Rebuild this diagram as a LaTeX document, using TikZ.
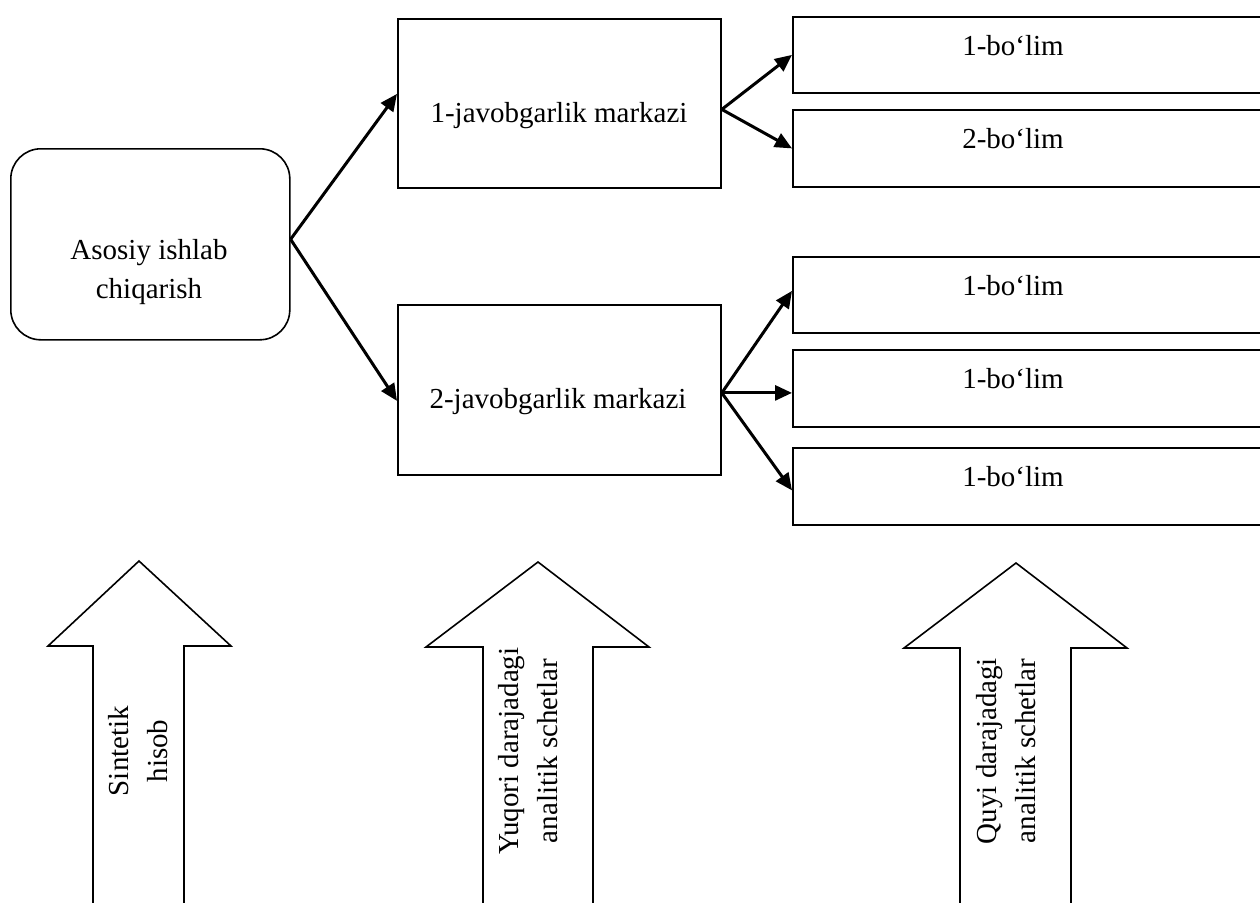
\documentclass[tikz,border=0pt]{standalone}
\usepackage{fontspec}
\setmainfont{Liberation Serif}
\usetikzlibrary{arrows.meta,calc}
\begin{document}
\begin{tikzpicture}[x=1pt,y=-1pt,
  lbl/.style={font=\fontsize{29}{39}\selectfont, inner sep=0pt, anchor=base, align=center},
  boxe/.style={draw, line width=1.8pt, inner sep=0pt, anchor=north west},
  link/.style={line width=3pt, -{Triangle[length=17pt,width=15pt]}},
  bigarrow/.style={draw, line width=1.6pt, line join=miter}]
\clip (0,0) rectangle (1260,902);

% main production unit (text anchored at the baseline of its last line)
\node[boxe, rounded corners=30pt, line width=1.6pt, minimum width=279pt, minimum height=191pt] (src) at (10,148) {};
\node[lbl] (tsrc) at (149,298) {Asosiy ishlab\\chiqarish};

% responsibility centres
\node[boxe, minimum width=323pt, minimum height=169pt] (c1) at (397,18) {};
\node[boxe, minimum width=323pt, minimum height=170pt] (c2) at (397,304) {};
\node[lbl] (tc1) at (559,122) {1-javobgarlik markazi};
\node[lbl] (tc2) at (558,408) {2-javobgarlik markazi};

% departments (running off the right edge)
\node[boxe, minimum width=500pt, minimum height=76pt] (b1) at (792,16) {};
\node[boxe, minimum width=500pt, minimum height=77pt] (b2) at (792,109) {};
\node[boxe, minimum width=500pt, minimum height=76pt] (b3) at (792,256) {};
\node[boxe, minimum width=500pt, minimum height=77pt] (b4) at (792,349) {};
\node[boxe, minimum width=500pt, minimum height=77pt] (b5) at (792,447) {};
\node[lbl] (tb1) at (1013,55) {1-bo‘lim};
\node[lbl] (tb2) at (1013,148) {2-bo‘lim};
\node[lbl] (tb3) at (1013,295) {1-bo‘lim};
\node[lbl] (tb4) at (1013,388) {1-bo‘lim};
\node[lbl] (tb5) at (1013,486) {1-bo‘lim};

% connectors
\coordinate (srce) at ([yshift=5pt]src.east);
\coordinate (c1e) at ([yshift=-6pt]c1.east);
\coordinate (c2e) at ([yshift=-3pt]c2.east);
\draw[link] (srce) -- ([yshift=9.5pt]c1.west);
\draw[link] (srce) -- ([yshift=-11pt]c2.west);
\draw[link] (c1e) -- (b1.west);
\draw[link] (c1e) -- (b2.west);
\draw[link] (c2e) -- ([yshift=4pt]b3.west);
\draw[link] (c2e) -- (c2e -| b4.west);
\draw[link] (c2e) -- ([yshift=-4pt]b5.west);

% accounting level arrows
\draw[bigarrow] (93,910) -- (93,646) -- (48,646) -- (139,561) -- (231,646) -- (184,646) -- (184,910);
\draw[bigarrow] (483,910) -- (483,647) -- (426,647) -- (538,562) -- (649,647) -- (593,647) -- (593,910);
\draw[bigarrow] (960,910) -- (960,648) -- (904,648) -- (1016,563) -- (1127,648) -- (1071,648) -- (1071,910);
\node[lbl, rotate=90] (s1) at (167,751) {Sintetik\\hisob};
\node[lbl, rotate=90] (s2) at (557,751) {Yuqori darajadagi\\analitik schetlar};
\node[lbl, rotate=90] (s3) at (1035,751) {Quyi darajadagi\\analitik schetlar};
\end{tikzpicture}
\end{document}
